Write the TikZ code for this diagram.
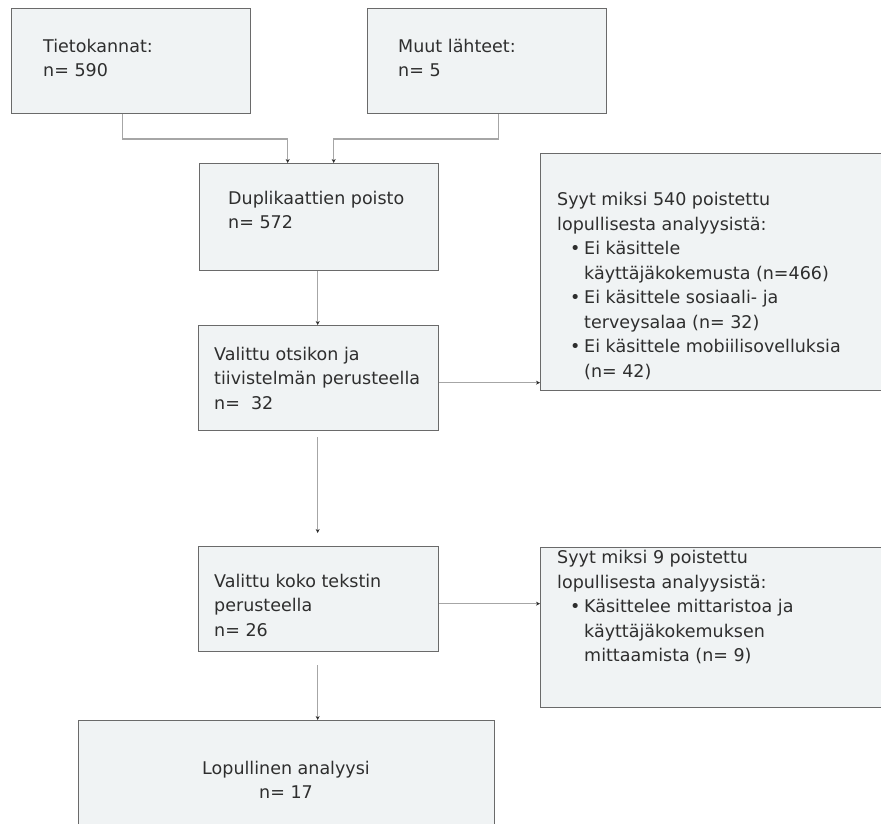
\documentclass[tikz,border=0pt]{standalone}
\usepackage{fontspec}
\setmainfont{DejaVu Sans}
\usetikzlibrary{arrows.meta,calc}
\definecolor{boxfill}{HTML}{F0F3F4}
\definecolor{boxline}{HTML}{6A6A6A}
\definecolor{txt}{HTML}{2E2E2E}
\definecolor{conncol}{HTML}{A6A6A6}
\newcommand{\bul}{\makebox[14pt][l]{•}}
\newcommand{\ind}{\hspace*{13pt}}
\newcommand{\indb}{\hspace*{14pt}}
\begin{document}
\begin{tikzpicture}[x=1pt,y=-1pt,
  box/.style={draw=boxline,fill=boxfill,line width=1.3pt,rectangle,inner sep=0pt,anchor=north west},
  lbl/.style={text=txt,align=left,inner sep=0pt,anchor=west,font=\fontsize{17.5}{24.5}\selectfont},
  conn/.style={draw=conncol,line width=1.6pt,-{Stealth[length=4pt,width=4pt,color=txt]}}]
\clip (0,0) rectangle (881,823);
\fill[white] (0,0) rectangle (881,823);
% boxes
\node[box,minimum width=239,minimum height=105] (b1) at (11,8) {};
\node[box,minimum width=239,minimum height=105] (b2) at (367,8) {};
\node[box,minimum width=239,minimum height=107] (b3) at (199,163) {};
\node[box,minimum width=345,minimum height=237] (b4) at (540,153) {};
\node[box,minimum width=240,minimum height=105] (b5) at (198,325) {};
\node[box,minimum width=240,minimum height=105] (b6) at (198,546) {};
\node[box,minimum width=345,minimum height=160] (b7) at (540,547) {};
\node[box,minimum width=416,minimum height=120] (b8) at (78,720) {};
% texts
\node[lbl] (t1) at (43,58) {Tietokannat:\\n= 590};
\node[lbl] (t2) at (398,58) {Muut lähteet:\\n= 5};
\node[lbl] (t3) at (228,210) {Duplikaattien poisto\\n= 572};
\node[lbl] (t4) at (557,286) {Syyt miksi 540 poistettu\\lopullisesta analyysistä:\\
  \ind\bul Ei käsittele\\\ind\indb käyttäjäkokemusta (n=466)\\
  \ind\bul Ei käsittele sosiaali- ja\\\ind\indb terveysalaa (n= 32)\\
  \ind\bul Ei käsittele mobiilisovelluksia\\\ind\indb (n= 42)};
\node[lbl] (t5) at (214,378) {Valittu otsikon ja\\tiivistelmän perusteella\\n=~~32};
\node[lbl] (t6) at (214,605) {Valittu koko tekstin\\perusteella\\n= 26};
\node[lbl] (t7) at (557,607) {Syyt miksi 9 poistettu\\lopullisesta analyysistä:\\
  \ind\bul Käsittelee mittaristoa ja\\\ind\indb käyttäjäkokemuksen\\\ind\indb mittaamista (n= 9)};
\node[lbl,anchor=center,align=center] (t8) at (286,780) {Lopullinen analyysi\\n= 17};
% connectors
\draw[conn] ([xshift=-8.5pt]b1.south) |- ([xshift=-31.5pt,yshift=24pt]b3.north) -- ([xshift=-31.5pt]b3.north);
\draw[conn] ([xshift=11.5pt]b2.south) |- ([xshift=14.5pt,yshift=24pt]b3.north) -- ([xshift=14.5pt]b3.north);
\draw[conn] ([xshift=-1.5pt]b3.south) -- ([xshift=-1.5pt]b3.south |- b5.north);
\draw[conn,shorten <=6pt,shorten >=13pt] ([xshift=-1pt]b5.south) -- ([xshift=-1pt]b5.south |- b6.north);
\draw[conn,shorten <=13pt] ([xshift=-1pt]b6.south) -- ([xshift=-1pt]b6.south |- b8.north);
\draw[conn] ([yshift=-4.5pt]b5.east) -- ([yshift=-4.5pt]b5.east -| b4.west);
\draw[conn] ([yshift=-4.5pt]b6.east) -- ([yshift=-4.5pt]b6.east -| b7.west);
\end{tikzpicture}
\end{document}
